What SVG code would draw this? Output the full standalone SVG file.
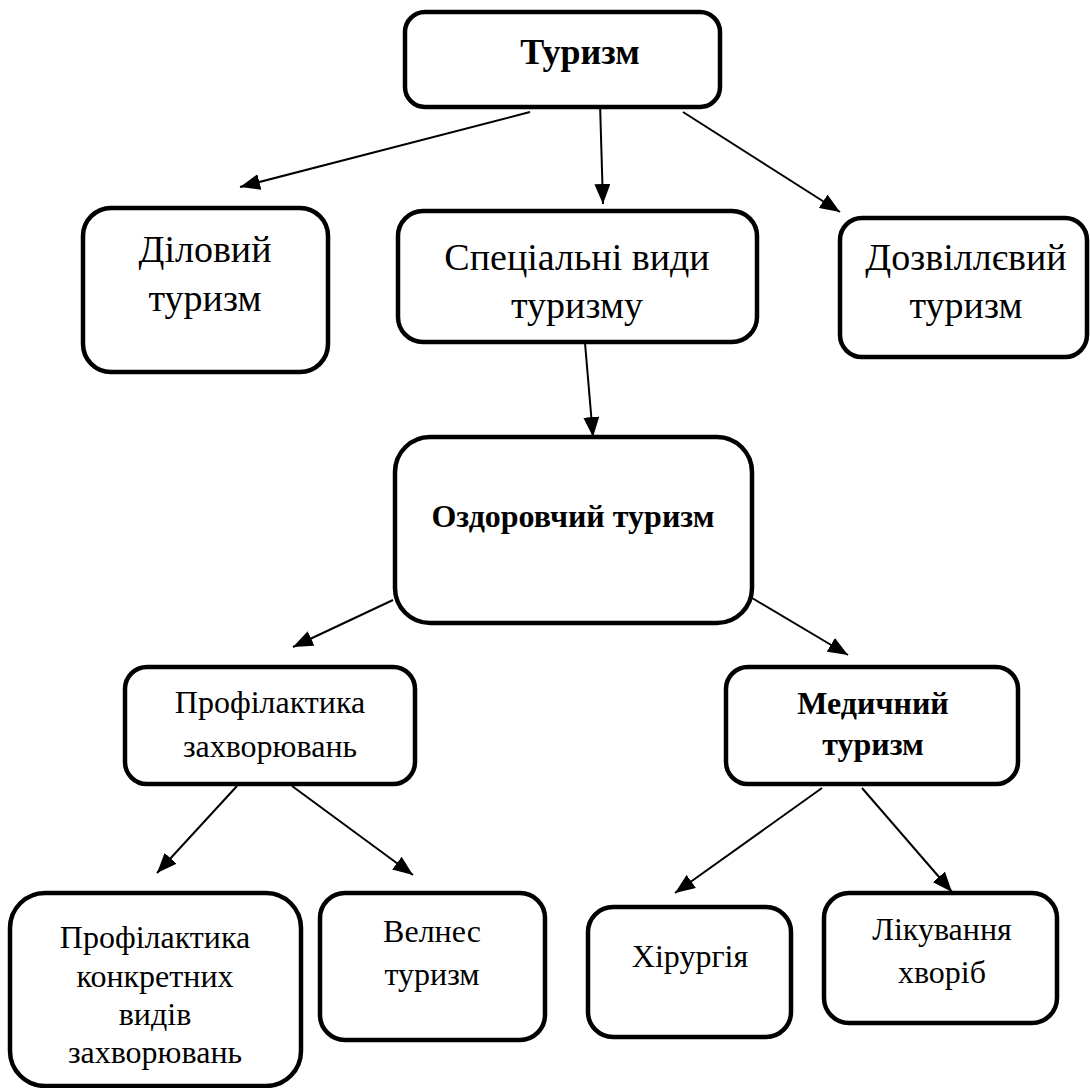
<svg xmlns="http://www.w3.org/2000/svg" width="1090" height="1088" viewBox="0 0 1090 1088">
<defs>
<marker id="ah" markerUnits="userSpaceOnUse" markerWidth="22" markerHeight="16" refX="20" refY="8" orient="auto">
<path d="M0,0 L20,8 L0,16 Z" fill="#000"/>
</marker>
<style>
rect.n{fill:#fff;stroke:#000;stroke-width:4.5}
text{font-family:"Liberation Serif","Times New Roman","DejaVu Serif",serif;fill:#000;text-anchor:middle}
.big{font-size:38px}
.mid{font-size:32px}
.b{font-weight:bold}
line.c{stroke:#000;stroke-width:2;marker-end:url(#ah)}
</style>
</defs>
<rect width="1090" height="1088" fill="#fff"/>
<g id="connectors">
<line class="c" x1="530" y1="112" x2="240" y2="187"/>
<line class="c" x1="600" y1="103" x2="603" y2="204"/>
<line class="c" x1="683" y1="112" x2="840" y2="212"/>
<line class="c" x1="585" y1="343" x2="593" y2="437"/>
<line class="c" x1="393" y1="600" x2="293" y2="647"/>
<line class="c" x1="752" y1="598" x2="848" y2="655"/>
<line class="c" x1="237" y1="786" x2="157" y2="873"/>
<line class="c" x1="292" y1="786" x2="413" y2="875"/>
<line class="c" x1="822" y1="788" x2="675" y2="893"/>
<line class="c" x1="862" y1="788" x2="952" y2="892"/>
</g>
<g id="n-turyzm">
<rect class="n" x="405" y="12" width="315" height="95" rx="20"/>
<text class="b" x="580" y="64" font-size="36">Туризм</text>
</g>
<g id="n-dilovyi">
<rect class="n" x="83" y="208" width="245" height="164" rx="28"/>
<text class="big" x="205" y="262">Діловий</text>
<text class="big" x="205" y="311">туризм</text>
</g>
<g id="n-spets">
<rect class="n" x="398" y="211" width="359" height="131" rx="25"/>
<text class="big" x="577" y="270">Спеціальні види</text>
<text class="big" x="577" y="318">туризму</text>
</g>
<g id="n-dozvil">
<rect class="n" x="840" y="218" width="247" height="139" rx="22"/>
<text class="big" x="966" y="270">Дозвіллєвий</text>
<text class="big" x="966" y="318">туризм</text>
</g>
<g id="n-ozdorov">
<rect class="n" x="395" y="437" width="357" height="186" rx="35"/>
<text class="mid b" x="573" y="527">Оздоровчий туризм</text>
</g>
<g id="n-profil">
<rect class="n" x="125" y="667" width="290" height="117" rx="22"/>
<text class="mid" x="270" y="713">Профілактика</text>
<text class="mid" x="270" y="757">захворювань</text>
</g>
<g id="n-medych">
<rect class="n" x="726" y="667" width="292" height="117" rx="22"/>
<text class="mid b" x="873" y="714">Медичний</text>
<text class="mid b" x="873" y="755">туризм</text>
</g>
<g id="n-profil-konkr">
<rect class="n" x="10" y="893" width="291" height="193" rx="35"/>
<text class="mid" x="155" y="948">Профілактика</text>
<text class="mid" x="155" y="987">конкретних</text>
<text class="mid" x="155" y="1025">видів</text>
<text class="mid" x="155" y="1063">захворювань</text>
</g>
<g id="n-velnes">
<rect class="n" x="320" y="893" width="225" height="147" rx="25"/>
<text class="mid" x="432" y="942">Велнес</text>
<text class="mid" x="432" y="985">туризм</text>
</g>
<g id="n-khirurh">
<rect class="n" x="588" y="907" width="203" height="130" rx="25"/>
<text class="mid" x="690" y="967">Хірургія</text>
</g>
<g id="n-likuv">
<rect class="n" x="824" y="893" width="233" height="130" rx="25"/>
<text class="mid" x="942" y="940">Лікування</text>
<text class="mid" x="942" y="983">хворіб</text>
</g>
</svg>
